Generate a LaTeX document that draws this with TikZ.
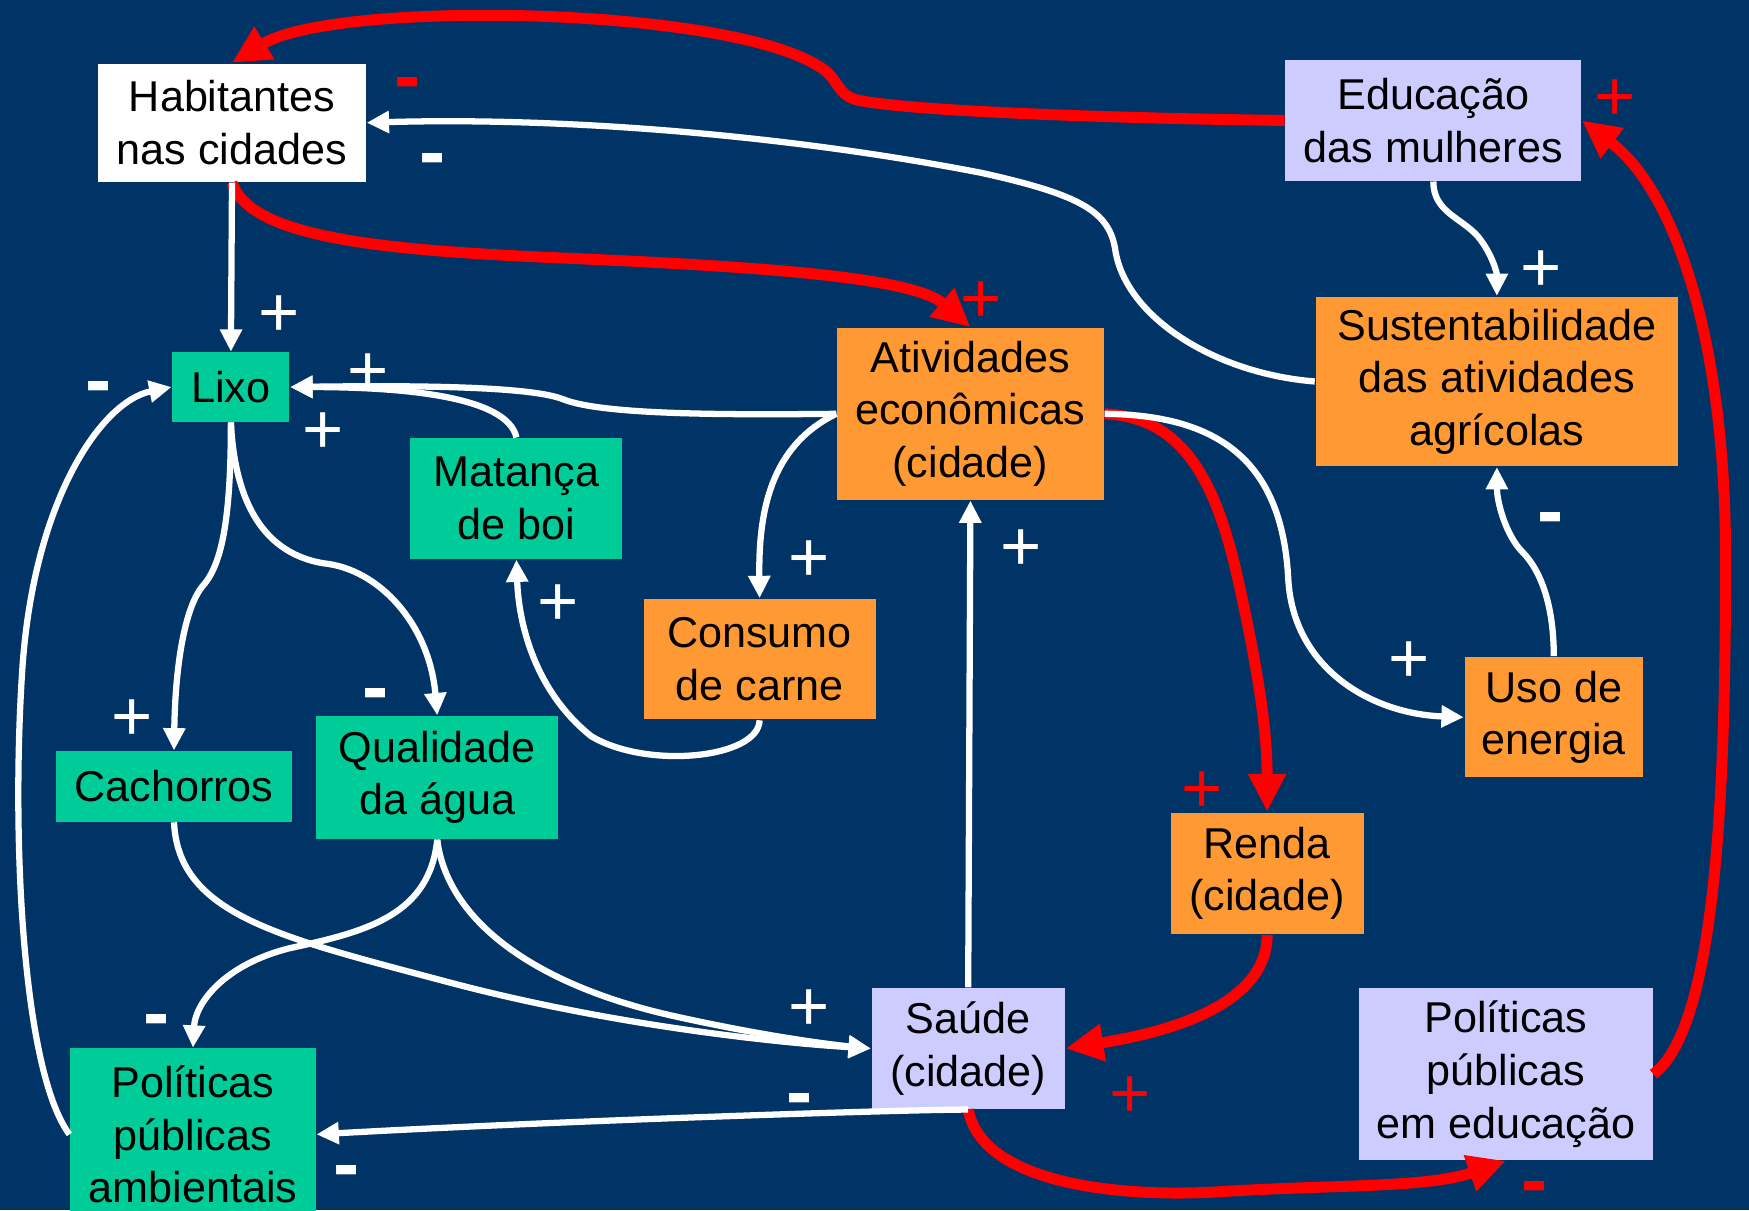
\documentclass[tikz,border=0pt]{standalone}
\usepackage{fontspec}
\setmainfont{Liberation Sans}
\usetikzlibrary{arrows.meta}

\definecolor{fundo}{RGB}{0,51,102}
\definecolor{verde}{RGB}{0,204,153}
\definecolor{laranja}{RGB}{255,153,51}
\definecolor{lilas}{RGB}{204,204,255}
\definecolor{vermelho}{RGB}{255,0,0}

\begin{document}
\begin{tikzpicture}[x=0.01cm,y=-0.01cm,
  caixa/.style={align=center,inner sep=0pt,text=black,font=\fontsize{11}{13.4}\selectfont},
  fio/.style={white,line width=1.6pt,-{Triangle[length=0.2cm,width=0.19cm]}},
  forte/.style={vermelho,line width=2.8pt,-{Triangle[length=0.34cm,width=0.32cm]}},
  mais/.style={white,inner sep=0pt,yshift=-0.055cm,font=\fontsize{18}{18}\selectfont},
  menos/.style={white,inner sep=0pt,yshift=-0.085cm,font=\bfseries\fontsize{20}{20}\selectfont}]
\useasboundingbox (0,0) rectangle (1568,1085);
\fill[fundo] (0,0) rectangle (1568,1085);

% caixas
\node[caixa,fill=white,minimum width=2.4cm,minimum height=1.06cm] (hab) at (208,110) {Habitantes\\nas cidades};
\node[caixa,fill=lilas,minimum width=2.65cm,minimum height=1.08cm] (educ) at (1285,108) {Educação\\das mulheres};
\node[caixa,fill=verde,minimum width=1.05cm,minimum height=0.62cm] (lixo) at (207,347) {Lixo};
\node[caixa,fill=laranja,minimum width=2.39cm,minimum height=1.54cm] (ativ) at (870,371) {Atividades\\econômicas\\(cidade)};
\node[caixa,fill=laranja,minimum width=3.25cm,minimum height=1.52cm] (sust) at (1342,342) {Sustentabilidade\\das atividades\\agrícolas};
\node[caixa,fill=verde,minimum width=1.9cm,minimum height=1.08cm] (mat) at (463,447) {Matança\\de boi};
\node[caixa,fill=laranja,minimum width=2.08cm,minimum height=1.08cm] (cons) at (681,591) {Consumo\\de carne};
\node[caixa,fill=laranja,minimum width=1.6cm,minimum height=1.08cm] (uso) at (1393,643) {Uso de\\energia};
\node[caixa,fill=verde,minimum width=2.12cm,minimum height=0.63cm] (cach) at (156,705) {Cachorros};
\node[caixa,fill=verde,minimum width=2.17cm,minimum height=1.1cm] (qual) at (392,697) {Qualidade\\da água};
\node[caixa,fill=laranja,minimum width=1.73cm,minimum height=1.09cm] (renda) at (1136,783) {Renda\\(cidade)};
\node[caixa,fill=lilas,minimum width=1.73cm,minimum height=1.08cm] (saude) at (868,940) {Saúde\\(cidade)};
\node[caixa,fill=lilas,minimum width=2.63cm,minimum height=1.54cm] (poled) at (1350,963) {Políticas\\públicas\\em educação};
\node[caixa,fill=verde,minimum width=2.2cm,minimum height=1.54cm] (polamb) at (173,1017) {Políticas\\públicas\\ambientais};

% ligacoes vermelhas
\draw[forte] (educ.west) .. controls (1000,106) and (820,100) .. (770,90) .. controls (750,86) and (752,70) .. (735,60) .. controls (650,5) and (300,0) .. (hab.north);
\draw[forte] (hab.south) .. controls (225,215) and (350,225) .. (520,232) .. controls (700,240) and (820,250) .. (ativ.north);
\draw[forte] (ativ.east) .. controls (1060,374) and (1090,430) .. (1110,520) .. controls (1130,610) and (1136,660) .. (renda.north);
\draw[forte] (renda.south) .. controls (1136,900) and (1050,925) .. (saude.east);
\draw[forte] (saude.south) .. controls (880,1060) and (1000,1075) .. (1100,1068) .. controls (1200,1062) and (1280,1065) .. (poled.south);
\draw[forte] (poled.east) .. controls (1540,920) and (1547,700) .. (1547,500) .. controls (1547,300) and (1500,170) .. (educ.east);

% ligacoes brancas
\draw[fio] (sust.west) .. controls (1090,335) and (1010,285) .. (1000,225) .. controls (995,190) and (970,175) .. (880,155) .. controls (700,120) and (500,105) .. (hab.east);
\draw[fio] (hab.south) -- (lixo.north);
\draw[fio] (ativ.west) .. controls (650,372) and (540,372) .. (505,358) .. controls (480,348) and (400,345) .. (lixo.east);
\draw[fio] (mat.north) .. controls (455,355) and (360,347) .. (lixo.east);
\draw[fio] (polamb.west) .. controls (20,960) and (10,750) .. (20,600) .. controls (30,450) and (90,360) .. (lixo.west);
\draw[fio] (lixo.south) .. controls (207,460) and (200,505) .. (182,525) .. controls (165,545) and (157,600) .. (cach.north);
\draw[fio] (lixo.south) .. controls (210,440) and (230,495) .. (290,505) .. controls (340,510) and (385,560) .. (qual.north);
\draw[fio] (ativ.west) .. controls (690,400) and (680,460) .. (cons.north);
\draw[fio] (cons.south) .. controls (680,680) and (580,690) .. (530,660) .. controls (480,620) and (465,560) .. (mat.south);
\draw[fio] (saude.north) -- (ativ.south);
\draw[fio] (ativ.east) .. controls (1100,372) and (1150,420) .. (1155,520) .. controls (1160,600) and (1230,640) .. (uso.west);
\draw[fio] (uso.north) .. controls (1393,540) and (1380,510) .. (1365,495) .. controls (1350,480) and (1342,450) .. (sust.south);
\draw[fio] (educ.south) .. controls (1285,190) and (1310,195) .. (1325,212) .. controls (1338,228) and (1342,245) .. (sust.north);
\draw[fio] (cach.south) .. controls (160,820) and (250,840) .. (400,880) .. controls (550,920) and (700,935) .. (saude.west);
\draw[fio] (qual.south) .. controls (400,820) and (470,880) .. (600,910) .. controls (680,928) and (740,936) .. (saude.west);
\draw[fio] (qual.south) .. controls (385,820) and (330,835) .. (260,850) .. controls (200,865) and (175,900) .. (polamb.north);
\draw[fio] (saude.south) .. controls (800,995) and (500,1005) .. (polamb.east);

% sinais
\node[menos,vermelho] (s1) at (365,72) {-};
\node[menos] (s2) at (388,140) {-};
\node[mais,vermelho] (s3) at (1448,84) {+};
\node[mais] (s4) at (1382,238) {+};
\node[mais,vermelho] (s5) at (880,265) {+};
\node[mais] (s6) at (250,278) {+};
\node[mais] (s7) at (330,330) {+};
\node[menos] (s8) at (88,345) {-};
\node[mais] (s9) at (290,383) {+};
\node[menos] (s10) at (1390,462) {-};
\node[mais] (s11) at (725,498) {+};
\node[mais] (s12) at (915,488) {+};
\node[mais] (s13) at (500,537) {+};
\node[mais] (s14) at (1263,588) {+};
\node[menos] (s15) at (337,620) {-};
\node[mais] (s16) at (118,640) {+};
\node[mais,vermelho] (s17) at (1078,705) {+};
\node[mais] (s18) at (725,900) {+};
\node[menos] (s19) at (140,912) {-};
\node[mais,vermelho] (s20) at (1013,978) {+};
\node[menos] (s21) at (717,983) {-};
\node[menos] (s22) at (311,1048) {-};
\node[menos,vermelho] (s23) at (1376,1062) {-};
\end{tikzpicture}
\end{document}
